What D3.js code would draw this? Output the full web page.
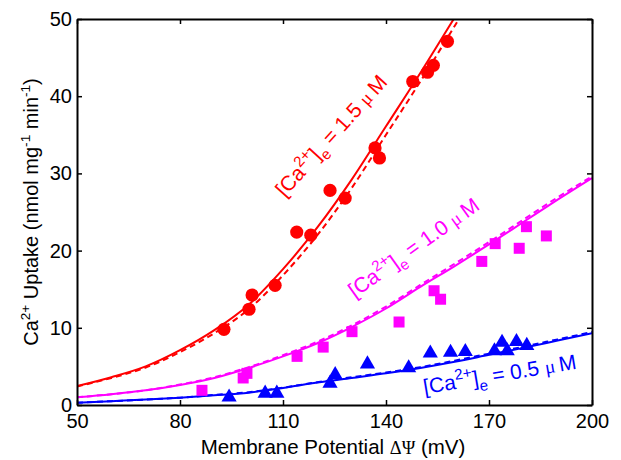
<!DOCTYPE html>
<html>
<head>
<meta charset="utf-8">
<script src="https://cdn.jsdelivr.net/npm/d3@7"></script>
<style>
  body { margin: 0; background: #fff; }
  svg { display: block; }
</style>
</head>
<body>
<svg id="chart" width="621" height="460"></svg>
<script>
// Axis ticks
const potentialTicks = [50, 80, 110, 140, 170, 200];
const uptakeTicks = [0, 10, 20, 30, 40, 50];

// Model curves sampled every 10 mV
const fitPotential = [50, 60, 70, 80, 90, 100, 110, 120, 130, 140, 150, 160, 170, 180, 190, 200];
const fitHighSolid = [2.45, 3.6, 5.0, 7.1, 9.7, 13.0, 17.6, 23.0, 29.2, 36.1, 43.0, 50.2, 57.5];
const fitHighDashed = [2.4, 3.5, 4.85, 6.85, 9.3, 12.4, 16.8, 22.0, 28.1, 35.0, 41.9, 49.1, 56.5];
const fitMidSolid = [1.0, 1.4, 1.9, 2.6, 3.5, 4.8, 6.3, 8.0, 10.1, 12.5, 15.3, 18.0, 20.8, 23.7, 26.6, 29.4];
const fitMidDashed = [1.0, 1.4, 1.9, 2.65, 3.6, 4.9, 6.45, 8.2, 10.3, 12.75, 15.55, 18.3, 21.1, 24.0, 26.9, 29.6];
const fitLowSolid = [0.3, 0.5, 0.7, 0.95, 1.25, 1.6, 2.2, 2.9, 3.5, 4.1, 4.8, 5.6, 6.5, 7.4, 8.35, 9.3];
const fitLowDashed = [0.3, 0.5, 0.7, 0.95, 1.3, 1.65, 2.25, 2.95, 3.6, 4.2, 4.9, 5.75, 6.65, 7.55, 8.5, 9.45];

// Measurements: [Ca2+]e = 1.5 uM (circles)
const highPotential = [92.8, 100.1, 101.0, 107.7, 114.0, 118.1, 123.7, 128.1, 136.8, 138.1, 147.8, 152.1, 153.8, 157.9];
const highUptake = [9.8, 12.4, 14.25, 15.5, 22.4, 22.0, 27.8, 26.8, 33.3, 32.0, 41.9, 43.1, 44.0, 47.1];

// [Ca2+]e = 1.0 uM (squares)
const midPotential = [86.4, 98.4, 99.5, 114.1, 121.7, 130.1, 143.8, 154.0, 155.9, 167.9, 171.8, 178.8, 180.9, 186.7];
const midUptake = [1.9, 3.5, 4.1, 6.3, 7.5, 9.5, 10.75, 14.8, 13.7, 18.6, 20.9, 20.3, 23.1, 21.9];

// [Ca2+]e = 0.5 uM (triangles)
const lowPotential = [94.3, 104.8, 108.2, 123.7, 125.2, 134.6, 146.6, 152.9, 158.8, 163.1, 171.6, 173.8, 175.3, 178.0, 181.0];
const lowUptake = [1.2, 1.7, 1.7, 3.0, 4.1, 5.5, 5.0, 6.9, 7.0, 7.1, 7.2, 8.3, 7.2, 8.4, 7.9];

const RED = "#ff0000", MAGENTA = "#ff00ff", BLUE = "#0000ff";
const FONT = "'Liberation Sans', Arial, Helvetica, sans-serif";
const SYMFONT = "'Liberation Serif', 'Times New Roman', serif";

const svg = d3.select("#chart");
svg.append("rect").attr("width", 621).attr("height", 460).attr("fill", "#fff");

const plotLeft = 77, plotRight = 592, plotTop = 19, plotBottom = 405;
const x = d3.scaleLinear().domain([50, 200]).range([plotLeft, plotRight]);
const y = d3.scaleLinear().domain([0, 50]).range([plotBottom, plotTop]);

svg.append("clipPath").attr("id", "plotClip")
  .append("rect").attr("x", plotLeft).attr("y", plotTop)
  .attr("width", plotRight - plotLeft).attr("height", plotBottom - plotTop);

const plot = svg.append("g").attr("clip-path", "url(#plotClip)");

// fitted curves
const line = d3.line().x(d => x(d[0])).y(d => y(d[1])).curve(d3.curveMonotoneX);
const pairs = vals => vals.map((v, i) => [fitPotential[i], v]);
const curves = [
  [fitHighSolid, RED, null], [fitHighDashed, RED, "6,4"],
  [fitMidSolid, MAGENTA, null], [fitMidDashed, MAGENTA, "6,4"],
  [fitLowSolid, BLUE, null], [fitLowDashed, BLUE, "6,4"]
];
curves.forEach(([vals, col, dash]) => {
  plot.append("path").datum(pairs(vals))
    .attr("d", line).attr("fill", "none").attr("stroke", col)
    .attr("stroke-width", 2).attr("stroke-dasharray", dash);
});

// markers
const zip = (a, b) => a.map((v, i) => [v, b[i]]);
plot.selectAll("circle.high").data(zip(highPotential, highUptake)).join("circle")
  .attr("cx", d => x(d[0])).attr("cy", d => y(d[1])).attr("r", 6.6).attr("fill", RED);

const sq = 11;
plot.selectAll("rect.mid").data(zip(midPotential, midUptake)).join("rect")
  .attr("x", d => x(d[0]) - sq / 2).attr("y", d => y(d[1]) - sq / 2)
  .attr("width", sq).attr("height", sq).attr("fill", MAGENTA);

const tri = d3.symbol().type(d3.symbolTriangle).size(100);
plot.selectAll("path.low").data(zip(lowPotential, lowUptake)).join("path")
  .attr("d", tri).attr("transform", d => `translate(${x(d[0])},${y(d[1]) + 1.5})`)
  .attr("fill", BLUE);

// axes with inward ticks on all four sides
const styleAxis = g => {
  g.select(".domain").attr("stroke", "#000").attr("stroke-width", 2);
  g.selectAll(".tick line").attr("stroke", "#000").attr("stroke-width", 1.5);
  g.selectAll("text").attr("font-family", FONT).attr("font-size", 20).attr("fill", "#000");
};
svg.append("g").attr("transform", `translate(0,${plotBottom})`)
  .call(d3.axisBottom(x).tickValues(potentialTicks).tickSizeInner(-5).tickSizeOuter(0).tickPadding(9))
  .call(styleAxis);
svg.append("g").attr("transform", `translate(${plotLeft},0)`)
  .call(d3.axisLeft(y).tickValues(uptakeTicks).tickSizeInner(-5).tickSizeOuter(0).tickPadding(5))
  .call(styleAxis);
svg.append("g").attr("transform", `translate(0,${plotTop})`)
  .call(d3.axisTop(x).tickValues(potentialTicks).tickSizeInner(-5).tickSizeOuter(0).tickFormat(""))
  .call(styleAxis);
svg.append("g").attr("transform", `translate(${plotRight},0)`)
  .call(d3.axisRight(y).tickValues(uptakeTicks).tickSizeInner(-5).tickSizeOuter(0).tickFormat(""))
  .call(styleAxis);

// text with superscripts / subscripts
function rich(text, parts, size, ratio) {
  let shift = 0;
  parts.forEach(([str, kind]) => {
    const ts = text.append("tspan").text(str);
    let target = 0, fs = size;
    if (kind === "sup") { target = -0.42 * size; fs = ratio * size; }
    else if (kind === "sub") { target = 0.3 * size; fs = ratio * size; }
    else if (kind === "sym") { fs = 0.9 * size; ts.attr("font-family", SYMFONT); }
    ts.attr("font-size", fs).attr("dy", target - shift);
    shift = target;
  });
}

// axis titles
const xt = svg.append("text").attr("x", 333).attr("y", 454)
  .attr("text-anchor", "middle").attr("font-family", FONT).attr("fill", "#000");
rich(xt, [["Membrane Potential ", "n"], ["ΔΨ", "sym"], [" (mV)", "n"]], 20.5, 0.68);

const yt = svg.append("text").attr("transform", "translate(38,212) rotate(-90)")
  .attr("text-anchor", "middle").attr("font-family", FONT).attr("fill", "#000");
rich(yt, [["Ca", "n"], ["2+", "sup"], [" Uptake (nmol mg", "n"], ["-1", "sup"], [" min", "n"], ["-1", "sup"], [")", "n"]], 20, 0.68);

// curve labels
function concLabel(v, u, angle, conc, col) {
  const t = svg.append("text")
    .attr("transform", `translate(${x(v)},${y(u)}) rotate(${angle})`)
    .attr("font-family", FONT).attr("fill", col);
  rich(t, [["[Ca", "n"], ["2+", "sup"], ["]", "n"], ["e", "sub"], [" = " + conc + " ", "n"], ["μ", "sym"], ["\u2009M", "n"]], 21, 0.72);
}
concLabel(110.5, 26.8, -48, "1.5", RED);
concLabel(130.9, 13.8, -35.5, "1.0", MAGENTA);
concLabel(151.2, 1.4, -9.5, "0.5", BLUE);
</script>
</body>
</html>
